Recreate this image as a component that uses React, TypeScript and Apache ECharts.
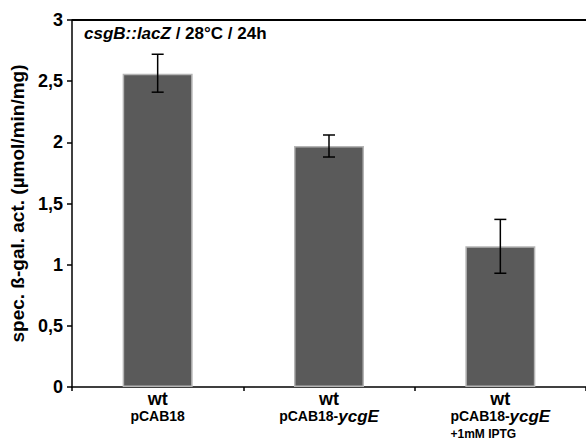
import React, { useEffect, useRef } from "react";
import * as echarts from "echarts";

const strains = ["wt", "wt", "wt"];
const plasmids = ["pCAB18", "pCAB18-", "pCAB18-"];
const genes = ["", "ycgE", "ycgE"];
const extras = ["", "", "+1mM IPTG"];
const activity = [2.56, 1.97, 1.15];
const errLow = [2.41, 1.88, 0.93];
const errHigh = [2.72, 2.06, 1.37];
const yTicks = [0, 0.5, 1, 1.5, 2, 2.5, 3];

const FONT = "Liberation Sans, Arial, sans-serif";

export default function App() {
  const ref = useRef<HTMLDivElement>(null);
  useEffect(() => {
    if (!ref.current) return;
    const chart = echarts.init(ref.current, null, { renderer: "svg" });
    const cats = strains.map((_, i) => String(i));
    chart.setOption({
      animation: false,
      backgroundColor: "#ffffff",
      textStyle: { fontFamily: FONT },
      grid: { left: 72, right: -8, top: 20, bottom: 57, containLabel: false },
      xAxis: [
        {
          type: "category",
          data: cats,
          position: "bottom",
          axisLine: { lineStyle: { color: "#000", width: 1.5 } },
          axisTick: { show: true, length: 4, lineStyle: { color: "#000", width: 1.5 } },
          splitLine: { show: false },
          axisLabel: {
            margin: 3,
            interval: 0,
            formatter: (v: string) => {
              const i = Number(v);
              let s = `{wt|${strains[i]}}\n{p|${plasmids[i]}}`;
              if (genes[i]) s += `{g|${genes[i]}}`;
              if (extras[i]) s += `\n{e|${extras[i]}}`;
              return s;
            },
            rich: {
              wt: { fontFamily: FONT, fontWeight: "bold", fontSize: 18, color: "#000", lineHeight: 18 },
              p: { fontFamily: FONT, fontWeight: "bold", fontSize: 14, color: "#000", lineHeight: 16 },
              g: { fontFamily: FONT, fontWeight: "bold", fontStyle: "italic", fontSize: 17, color: "#000", lineHeight: 16 },
              e: { fontFamily: FONT, fontWeight: "bold", fontSize: 12, color: "#000", lineHeight: 20, align: "left" },
            },
          },
        },
      ],
      yAxis: {
        type: "value",
        min: 0,
        max: 3,
        interval: 0.5,
        name: "spec. ß-gal. act. (µmol/min/mg)",
        nameLocation: "middle",
        nameGap: 44,
        nameTextStyle: { fontFamily: FONT, fontWeight: "bold", fontSize: 19, color: "#000" },
        axisLine: { show: true, lineStyle: { color: "#000", width: 1.5 } },
        axisTick: { show: true, length: 5, lineStyle: { color: "#000", width: 1.5 } },
        splitLine: { show: false },
        axisLabel: {
          margin: 9,
          fontFamily: FONT,
          fontWeight: "bold",
          fontSize: 18,
          color: "#000",
          formatter: (v: number) => {
            const t = yTicks.find((x) => Math.abs(x - v) < 1e-9);
            return t === undefined ? "" : String(t).replace(".", ",");
          },
        },
      },
      series: [
        {
          type: "bar",
          data: activity,
          barWidth: 70,
          itemStyle: { color: "#5a5a5a", borderColor: "#b5b5b5", borderWidth: 1.5 },
          z: 2,
        },
        {
          type: "custom",
          data: activity.map((_, i) => [i, errLow[i], errHigh[i]]),
          z: 5,
          renderItem: (params: any, api: any) => {
            const x = api.value(0);
            const lo = api.coord([x, api.value(1)]);
            const hi = api.coord([x, api.value(2)]);
            const cap = 6;
            const style = { stroke: "#000", lineWidth: 1.5 };
            return {
              type: "group",
              children: [
                { type: "line", shape: { x1: lo[0], y1: lo[1], x2: hi[0], y2: hi[1] }, style },
                { type: "line", shape: { x1: lo[0] - cap, y1: lo[1], x2: lo[0] + cap, y2: lo[1] }, style },
                { type: "line", shape: { x1: hi[0] - cap, y1: hi[1], x2: hi[0] + cap, y2: hi[1] }, style },
              ],
            };
          },
        },
      ],
      graphic: [
        {
          type: "line",
          shape: { x1: 72, y1: 20, x2: 586, y2: 20 },
          style: { stroke: "#000", lineWidth: 1.8 },
          silent: true,
        },
        {
          type: "text",
          left: 84,
          top: 25,
          style: {
            text: "{a|csgB::lacZ}{b| / 28°C / 24h}",
            rich: {
              a: { fontFamily: FONT, fontWeight: "bold", fontStyle: "italic", fontSize: 17, fill: "#000" },
              b: { fontFamily: FONT, fontWeight: "bold", fontSize: 17, fill: "#000" },
            },
          },
        },
      ],
    });
    return () => chart.dispose();
  }, []);
  return (
    <div
      ref={ref}
      style={{ position: "absolute", left: 0, top: 0, width: 586, height: 444 }}
    />
  );
}
